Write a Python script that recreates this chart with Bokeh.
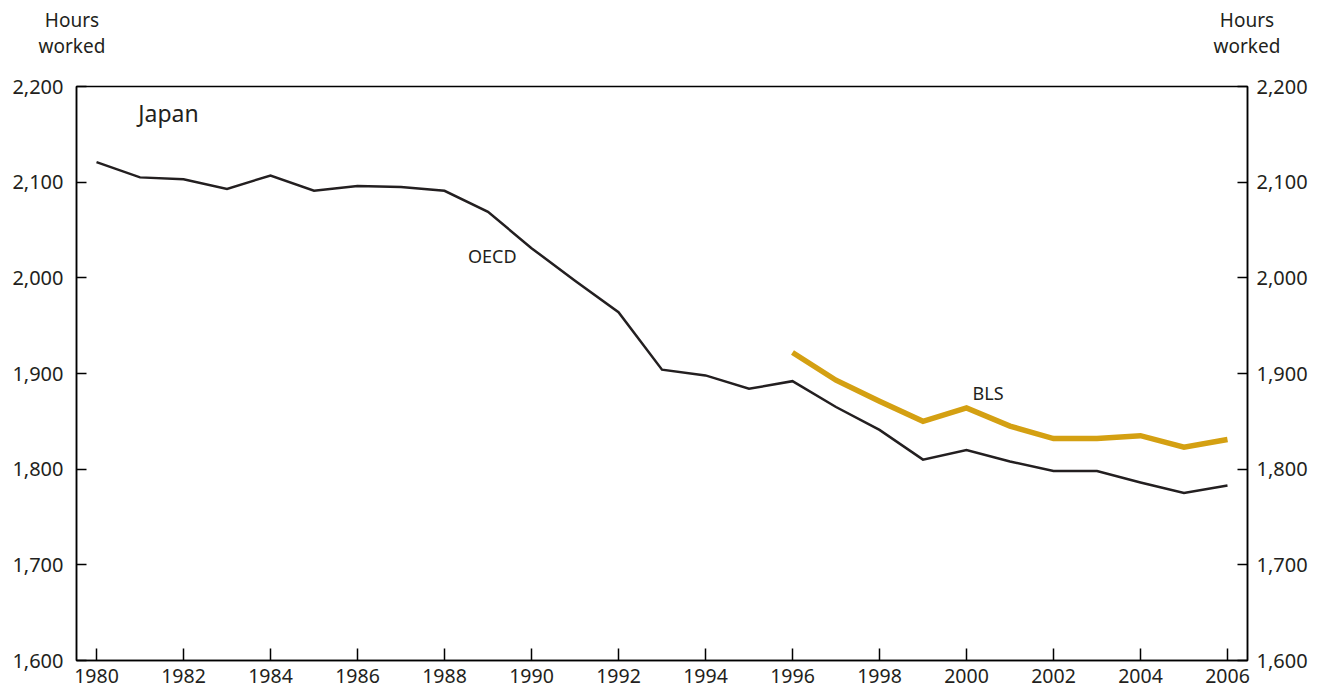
from bokeh.plotting import figure
from bokeh.layouts import column
from bokeh.models import Range1d, LinearAxis, FixedTicker, NumeralTickFormatter, Label, ColumnDataSource, Div
from bokeh.embed import file_html
from bokeh.resources import INLINE

years_oecd = list(range(1980, 2007))
hours_oecd = [2121, 2105, 2103, 2093, 2107, 2091, 2096, 2095, 2091, 2069, 2031,
              1997, 1964, 1904, 1898, 1884, 1892, 1865, 1841, 1810, 1820,
              1808, 1798, 1798, 1786, 1775, 1783]
years_bls = list(range(1996, 2007))
hours_bls = [1922, 1893, 1871, 1850, 1864, 1845, 1832, 1832, 1835, 1823, 1831]

x_ticks = list(range(1980, 2007, 2))
y_ticks = [1600, 1700, 1800, 1900, 2000, 2100, 2200]
axis_caption = "Hours<br>worked"

FONT = "Noto Sans"
TXT = "#231F20"
W = 1310
HEAD_H = 60

cap_style = ("position:absolute; top:7px; width:120px; text-align:center; "
             "font-family:'Noto Sans'; font-size:19px; line-height:26px; color:%s;" % TXT)
head_html = ('<div style="position:relative; width:%dpx; height:%dpx;">'
             '<div style="%s left:12px;">%s</div>'
             '<div style="%s left:1187px;">%s</div></div>'
             % (W, HEAD_H, cap_style, axis_caption, cap_style, axis_caption))
head = Div(text=head_html, width=W, height=HEAD_H, margin=(0, 0, 0, 0))

p = figure(width=W, height=631, output_backend="svg", toolbar_location=None,
           x_range=Range1d(1979.54, 2006.46), y_range=Range1d(1600, 2200),
           min_border_left=76, min_border_right=62, min_border_top=26, min_border_bottom=31,
           y_axis_location=None, x_axis_location=None)
p.xgrid.visible = False
p.ygrid.visible = False
p.outline_line_color = "black"
p.outline_line_width = 1.5
p.background_fill_color = "white"
p.border_fill_color = "white"

def style_axis(ax, tick_len, size):
    ax.axis_line_color = "black"
    ax.axis_line_width = 1.5
    ax.major_tick_line_color = "black"
    ax.major_tick_line_width = 1.5
    ax.major_tick_in = tick_len
    ax.major_tick_out = 0
    ax.minor_tick_line_color = None
    ax.major_label_text_font = FONT
    ax.major_label_text_font_size = size
    ax.major_label_text_color = TXT

xa = LinearAxis(ticker=FixedTicker(ticks=x_ticks))
style_axis(xa, 12, "19.5px")
xa.major_label_standoff = 8
p.add_layout(xa, "below")

ya = LinearAxis(ticker=FixedTicker(ticks=y_ticks), formatter=NumeralTickFormatter(format="0,0"))
style_axis(ya, 10, "20px")
ya.major_label_standoff = 13
p.add_layout(ya, "left")

ya2 = LinearAxis(ticker=FixedTicker(ticks=y_ticks), formatter=NumeralTickFormatter(format="0,0"))
style_axis(ya2, 10, "20px")
ya2.major_label_standoff = 9
p.add_layout(ya2, "right")

src_o = ColumnDataSource(dict(x=years_oecd, y=hours_oecd))
src_b = ColumnDataSource(dict(x=years_bls, y=hours_bls))
p.line("x", "y", source=src_o, line_color="#231F20", line_width=2.5, line_join="miter")
p.line("x", "y", source=src_b, line_color="#D4A012", line_width=5.5, line_join="miter")

def lab(x, y, t, size):
    p.add_layout(Label(x=x, y=y, text=t, text_font=FONT, text_font_size=size,
                       text_color=TXT, text_align="left", text_baseline="middle"))

lab(1980.96, 2172.8, "Japan", "23px")
lab(1988.54, 2022.4, "OECD", "18px")
lab(2000.14, 1879.2, "BLS", "18px")

layout = column(head, p, spacing=0)
open("out.html", "w").write(file_html(layout, INLINE))
